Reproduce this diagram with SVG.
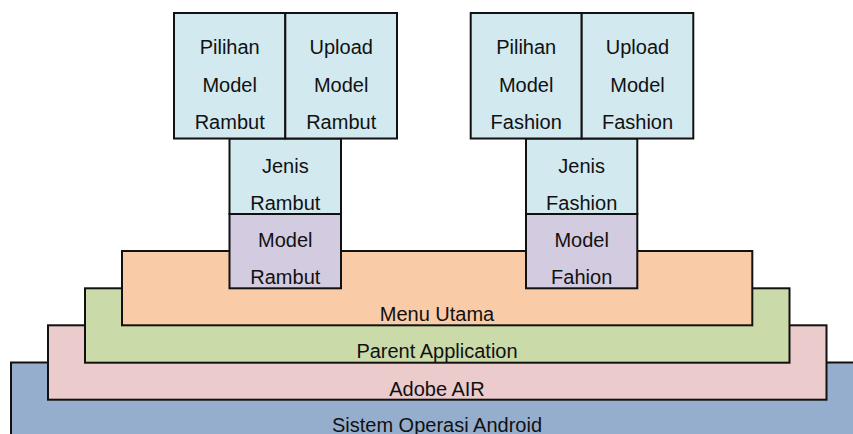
<svg xmlns="http://www.w3.org/2000/svg" width="853" height="434" viewBox="0 0 853 434">
  <style>
    .box { stroke: #111; stroke-width: 2; }
    .os { fill: #95AECD; }
    .air { fill: #EBCBCB; }
    .parent { fill: #CBDAA9; }
    .menu { fill: #F9CBA6; }
    .model { fill: #D3CBE0; }
    .feature { fill: #D2E9EF; }
    text { font-family: "Liberation Sans", Arial, sans-serif; font-size: 20px; fill: #111; text-anchor: middle; }
  </style>
  <rect width="853" height="434" fill="#fff"/>

  <!-- platform layers, bottom to top -->
  <g id="sistem-operasi-android">
    <rect class="box os" x="11" y="362.5" width="852" height="90"/>
    <text x="437" y="432">Sistem Operasi Android</text>
  </g>
  <g id="adobe-air">
    <rect class="box air" x="48" y="325.3" width="778.5" height="74.4"/>
    <text x="437" y="396">Adobe AIR</text>
  </g>
  <g id="parent-application">
    <rect class="box parent" x="85" y="288.3" width="704.5" height="74.4"/>
    <text x="437" y="358.3">Parent Application</text>
  </g>
  <g id="menu-utama">
    <rect class="box menu" x="122" y="251" width="630.3" height="74.3"/>
    <text x="437" y="320.7">Menu Utama</text>
  </g>

  <!-- rambut stack -->
  <g id="model-rambut">
    <rect class="box model" x="229.5" y="214" width="111.5" height="74.3"/>
    <text x="285.3" y="246.7">Model</text>
    <text x="285.3" y="284">Rambut</text>
  </g>
  <g id="jenis-rambut">
    <rect class="box feature" x="229.5" y="138.5" width="111.5" height="75.5"/>
    <text x="285.3" y="172.7">Jenis</text>
    <text x="285.3" y="210">Rambut</text>
  </g>
  <g id="pilihan-model-rambut">
    <rect class="box feature" x="174" y="13" width="111.3" height="125.5"/>
    <text x="229.7" y="54">Pilihan</text>
    <text x="229.7" y="91.5">Model</text>
    <text x="229.7" y="129.3">Rambut</text>
  </g>
  <g id="upload-model-rambut">
    <rect class="box feature" x="285.3" y="13" width="111.7" height="125.5"/>
    <text x="341.2" y="54">Upload</text>
    <text x="341.2" y="91.5">Model</text>
    <text x="341.2" y="129.3">Rambut</text>
  </g>

  <!-- fashion stack -->
  <g id="model-fashion">
    <rect class="box model" x="526" y="214" width="111.3" height="74.3"/>
    <text x="581.7" y="246.7">Model</text>
    <text x="581.7" y="284">Fahion</text>
  </g>
  <g id="jenis-fashion">
    <rect class="box feature" x="526" y="138.5" width="111.3" height="75.5"/>
    <text x="581.7" y="172.7">Jenis</text>
    <text x="581.7" y="210">Fashion</text>
  </g>
  <g id="pilihan-model-fashion">
    <rect class="box feature" x="470.7" y="13" width="111" height="125.5"/>
    <text x="526.2" y="54">Pilihan</text>
    <text x="526.2" y="91.5">Model</text>
    <text x="526.2" y="129.3">Fashion</text>
  </g>
  <g id="upload-model-fashion">
    <rect class="box feature" x="581.7" y="13" width="111.6" height="125.5"/>
    <text x="637.5" y="54">Upload</text>
    <text x="637.5" y="91.5">Model</text>
    <text x="637.5" y="129.3">Fashion</text>
  </g>

  <g id="connectors"></g>
</svg>
